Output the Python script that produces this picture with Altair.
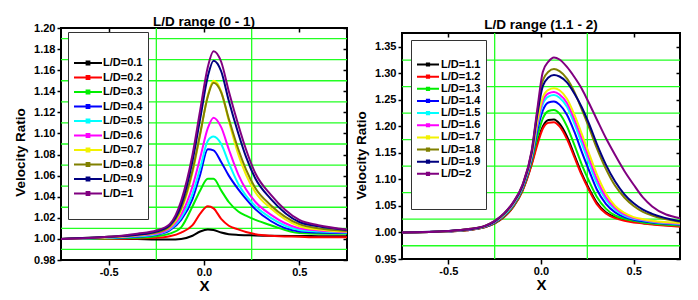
import altair as alt
import pandas as pd

# ---------------- data ----------------
X_LEFT = [-0.75, -0.5, -0.35, -0.25, -0.18, -0.12, -0.06, -0.02, 0.02, 0.05,
          0.09, 0.13, 0.18, 0.22, 0.27, 0.35, 0.5, 0.6, 0.75]

LD_01 = [1.000, 1.000, 0.9998, 0.9995, 0.9995, 1.000, 1.003, 1.007, 1.009, 1.0085,
         1.006, 1.0045, 1.0038, 1.0035, 1.0032, 1.003, 1.0028, 1.0026, 1.0025]
LD_02 = [1.000, 1.000, 1.0005, 1.001, 1.0025, 1.006, 1.013, 1.024, 1.031, 1.029,
         1.019, 1.0125, 1.009, 1.0065, 1.0045, 1.003, 1.002, 1.0015, 1.0015]
LD_03 = [1.000, 1.0005, 1.001, 1.0025, 1.005, 1.011, 1.031, 1.046, 1.057, 1.057,
         1.046, 1.035, 1.026, 1.022, 1.018, 1.013, 1.0055, 1.005, 1.005]
LD_04 = [1.000, 1.001, 1.002, 1.004, 1.008, 1.018, 1.038, 1.061, 1.085, 1.084,
         1.073, 1.060, 1.047, 1.038, 1.028, 1.017, 1.007, 1.006, 1.0055]
LD_05 = [1.000, 1.001, 1.0025, 1.0045, 1.009, 1.020, 1.043, 1.067, 1.093, 1.097,
         1.090, 1.072, 1.052, 1.041, 1.031, 1.020, 1.0085, 1.007, 1.006]
LD_06 = [1.000, 1.0015, 1.003, 1.005, 1.010, 1.023, 1.050, 1.077, 1.105, 1.115,
         1.106, 1.085, 1.061, 1.047, 1.035, 1.023, 1.010, 1.008, 1.0065]
LD_07 = [1.000, 1.0015, 1.0035, 1.006, 1.011, 1.027, 1.063, 1.099, 1.136, 1.150,
         1.140, 1.112, 1.080, 1.061, 1.044, 1.029, 1.012, 1.009, 1.007]
LD_08 = [1.000, 1.002, 1.004, 1.006, 1.012, 1.029, 1.065, 1.100, 1.135, 1.148,
         1.139, 1.114, 1.085, 1.066, 1.048, 1.032, 1.014, 1.010, 1.0075]
LD_09 = [1.000, 1.002, 1.004, 1.007, 1.013, 1.032, 1.074, 1.114, 1.154, 1.169,
         1.159, 1.131, 1.100, 1.078, 1.057, 1.038, 1.016, 1.012, 1.0085]
LD_10 = [1.000, 1.002, 1.005, 1.008, 1.014, 1.036, 1.080, 1.122, 1.163, 1.178,
         1.168, 1.140, 1.108, 1.085, 1.062, 1.042, 1.018, 1.013, 1.009]

X_RIGHT = [-0.75, -0.5, -0.4, -0.3, -0.25, -0.2, -0.15, -0.1, -0.05, -0.02, 0.01, 0.04,
           0.07, 0.1, 0.14, 0.18, 0.22, 0.26, 0.3, 0.35, 0.4, 0.45, 0.5, 0.55, 0.6, 0.75]

LD_11 = [1.000, 1.002, 1.004, 1.010, 1.017, 1.029, 1.048, 1.079, 1.130, 1.170, 1.200, 1.212,
         1.213, 1.205, 1.181, 1.146, 1.111, 1.082, 1.057, 1.038, 1.029, 1.024, 1.021, 1.018,
         1.016, 1.012]
LD_12 = [1.000, 1.002, 1.004, 1.010, 1.017, 1.029, 1.048, 1.078, 1.128, 1.165, 1.196, 1.207,
         1.208, 1.200, 1.176, 1.142, 1.108, 1.079, 1.054, 1.036, 1.027, 1.022, 1.019, 1.017,
         1.015, 1.011]
LD_13 = [1.000, 1.002, 1.0045, 1.011, 1.018, 1.031, 1.050, 1.081, 1.135, 1.180, 1.215, 1.229,
         1.231, 1.224, 1.200, 1.165, 1.128, 1.096, 1.068, 1.045, 1.032, 1.026, 1.022, 1.019,
         1.017, 1.013]
LD_14 = [1.000, 1.002, 1.005, 1.011, 1.019, 1.032, 1.052, 1.083, 1.139, 1.192, 1.230, 1.245,
         1.247, 1.241, 1.222, 1.190, 1.152, 1.116, 1.082, 1.054, 1.038, 1.029, 1.024, 1.021,
         1.019, 1.015]
LD_15 = [1.000, 1.0025, 1.005, 1.012, 1.020, 1.033, 1.053, 1.085, 1.143, 1.200, 1.242, 1.256,
         1.259, 1.254, 1.237, 1.205, 1.168, 1.130, 1.094, 1.062, 1.043, 1.032, 1.026, 1.023,
         1.020, 1.016]
LD_16 = [1.000, 1.0025, 1.005, 1.012, 1.020, 1.034, 1.054, 1.086, 1.145, 1.205, 1.248, 1.262,
         1.265, 1.260, 1.244, 1.213, 1.177, 1.139, 1.102, 1.067, 1.046, 1.034, 1.027, 1.024,
         1.021, 1.0165]
LD_17 = [1.000, 1.0025, 1.0055, 1.012, 1.021, 1.034, 1.055, 1.087, 1.147, 1.210, 1.255, 1.269,
         1.272, 1.268, 1.252, 1.222, 1.186, 1.148, 1.111, 1.074, 1.050, 1.037, 1.029, 1.025,
         1.022, 1.018]
LD_18 = [1.000, 1.003, 1.006, 1.013, 1.0215, 1.0355, 1.0565, 1.089, 1.153, 1.227, 1.287, 1.303,
         1.308, 1.304, 1.290, 1.265, 1.232, 1.197, 1.160, 1.120, 1.088, 1.066, 1.050, 1.039,
         1.032, 1.020]
LD_19 = [1.000, 1.003, 1.0055, 1.0125, 1.021, 1.035, 1.056, 1.088, 1.151, 1.222, 1.276, 1.292,
         1.297, 1.294, 1.283, 1.262, 1.236, 1.204, 1.168, 1.128, 1.096, 1.072, 1.055, 1.043,
         1.035, 1.021]
LD_20 = [1.000, 1.003, 1.006, 1.013, 1.022, 1.036, 1.057, 1.090, 1.155, 1.232, 1.303, 1.322,
         1.330, 1.326, 1.312, 1.293, 1.271, 1.243, 1.214, 1.178, 1.146, 1.116, 1.090, 1.066,
         1.049, 1.027]

LEFT_NAMES = ["L/D=0.1", "L/D=0.2", "L/D=0.3", "L/D=0.4", "L/D=0.5",
              "L/D=0.6", "L/D=0.7", "L/D=0.8", "L/D=0.9", "L/D=1"]
RIGHT_NAMES = ["L/D=1.1", "L/D=1.2", "L/D=1.3", "L/D=1.4", "L/D=1.5",
               "L/D=1.6", "L/D=1.7", "L/D=1.8", "L/D=1.9", "L/D=2"]
LEFT_SERIES = [LD_01, LD_02, LD_03, LD_04, LD_05, LD_06, LD_07, LD_08, LD_09, LD_10]
RIGHT_SERIES = [LD_11, LD_12, LD_13, LD_14, LD_15, LD_16, LD_17, LD_18, LD_19, LD_20]

COLORS = ["#000000", "#ff0000", "#00ee00", "#0000ff", "#00ffff",
          "#ff00ff", "#f2f200", "#808000", "#000080", "#800080"]

X_TICKS = [-0.5, 0.0, 0.5]
X_GRID = [-0.25, 0.25]
LEFT_Y_TICKS = [0.98, 1.00, 1.02, 1.04, 1.06, 1.08, 1.10, 1.12, 1.14, 1.16, 1.18, 1.20]
LEFT_Y_GRID = [0.99, 1.01, 1.03, 1.05, 1.07, 1.09, 1.11, 1.13, 1.15, 1.17, 1.19]
RIGHT_Y_TICKS = [0.95, 1.00, 1.05, 1.10, 1.15, 1.20, 1.25, 1.30, 1.35]
RIGHT_Y_GRID = [0.975, 1.025, 1.075, 1.125, 1.175, 1.225, 1.275, 1.325]

FONT = "Liberation Sans"
GRID_COLOR = "#22ff22"
# legend sample: a short line with a small square marker in its middle
LEGEND_SYMBOL = "M-1,0H3M0.8,-0.2H1.2V0.2H0.8Z"


def panel(xs, series, names, title, title_off, ydom, yticks, ygrid, w, h, ytitle_y,
          leg, blanks):
    rows = []
    for name, ys in zip(names, series):
        for x, y in zip(xs, ys):
            rows.append({"x": x, "y": y, "s": name})
    df = pd.DataFrame(rows)
    xsc = alt.Scale(domain=[-0.75, 0.75], nice=False, zero=False)
    ysc = alt.Scale(domain=ydom, nice=False, zero=False)
    xlab = "datum.value < 0 ? '-' + format(-datum.value, '.1f') : format(datum.value, '.1f')"

    gv = alt.Chart(pd.DataFrame({"gx": X_GRID})).mark_rule(
        color=GRID_COLOR, strokeWidth=1.3).encode(x=alt.X("gx:Q", scale=xsc, axis=None))
    gh = alt.Chart(pd.DataFrame({"gy": ygrid})).mark_rule(
        color=GRID_COLOR, strokeWidth=1.3).encode(y=alt.Y("gy:Q", scale=ysc, axis=None))

    dom = names + blanks
    rng = COLORS + ["#ffffff"] * len(blanks)
    lines = alt.Chart(df).mark_line(strokeWidth=2, interpolate="monotone").encode(
        x=alt.X("x:Q", scale=xsc,
                axis=alt.Axis(orient="bottom", values=X_TICKS, labelExpr=xlab, title="X",
                              titleFontSize=15, titlePadding=1, tickSize=5, labelPadding=1)),
        y=alt.Y("y:Q", scale=ysc,
                axis=alt.Axis(orient="left", values=yticks, format=".2f", title="Velocity Ratio",
                              titleFontSize=13.5, titlePadding=6, titleY=ytitle_y, tickSize=4)),
        color=alt.Color("s:N", scale=alt.Scale(domain=dom, range=rng),
                        legend=alt.Legend(orient="none", legendX=leg["x"], legendY=leg["y"],
                                          title=" ", titleFontSize=leg["tfs"],
                                          titlePadding=leg["tpad"],
                                          strokeColor="#333333", fillColor="white",
                                          padding=leg["pad"], labelFont=FONT,
                                          labelFontWeight="bold", labelFontSize=leg["fs"],
                                          labelColor="black", symbolType=LEGEND_SYMBOL,
                                          symbolSize=leg["ss"], symbolStrokeWidth=2,
                                          rowPadding=leg["rp"], labelOffset=leg["lo"])),
    )
    mirror = alt.Chart(df).mark_point(opacity=0).encode(
        x=alt.X("x:Q", scale=xsc,
                axis=alt.Axis(orient="top", values=X_TICKS, labels=False, title=None,
                              offset=-4, tickSize=4)),
        y=alt.Y("y:Q", scale=ysc,
                axis=alt.Axis(orient="right", values=yticks, labels=False, title=None,
                              offset=-4, tickSize=4)),
    )
    return alt.layer(gv, gh, lines, mirror).resolve_scale(
        x="independent", y="independent").properties(
        width=w, height=h, title=alt.TitleParams(text=title, offset=title_off))


def spacer(h):
    return alt.Chart(pd.DataFrame({"v": [0]})).mark_point(opacity=0).encode(
        x=alt.value(0), y=alt.value(0)
    ).properties(width=10, height=h, view=alt.ViewBackground(strokeOpacity=0))


left = panel(X_LEFT, LEFT_SERIES, LEFT_NAMES, "L/D range (0 - 1)", -6.5, [0.98, 1.20],
             LEFT_Y_TICKS, LEFT_Y_GRID, 286, 232, 124,
             {"x": 7, "y": 4, "tfs": 12, "tpad": 6, "pad": 5, "fs": 11, "ss": 196,
              "rp": 0.5, "lo": 14}, ["  "])
right = panel(X_RIGHT, RIGHT_SERIES, RIGHT_NAMES, "L/D range (1.1 - 2)", 0.5,
              [0.95, 1.376], RIGHT_Y_TICKS, RIGHT_Y_GRID, 278, 226, 122,
              {"x": 9, "y": 7, "tfs": 10, "tpad": 3, "pad": 5, "fs": 11, "ss": 121,
               "rp": 0.15, "lo": 12}, ["  ", "   "])

left_cell = alt.vconcat(spacer(1), left, spacing=0).resolve_scale(
    color="independent").resolve_legend(color="independent")
right_cell = alt.vconcat(spacer(6), right, spacing=0).resolve_scale(
    color="independent").resolve_legend(color="independent")

chart = alt.hconcat(left_cell, right_cell, spacing=1).resolve_scale(
    color="independent").resolve_legend(color="independent").properties(
    padding={"left": 4, "top": 0, "right": 2, "bottom": 2}
).configure_view(stroke="black", strokeWidth=2).configure_axis(
    labelFont=FONT, labelFontWeight="bold", labelFontSize=11, labelColor="black",
    titleFont=FONT, titleFontWeight="bold", titleFontSize=15, titleColor="black",
    tickColor="black", tickWidth=1.5, domain=False, grid=False, labelPadding=2,
).configure_title(font=FONT, fontSize=13.5, fontWeight="bold", color="black")

chart.save("out.html", embed_options={"renderer": "svg", "actions": False})
